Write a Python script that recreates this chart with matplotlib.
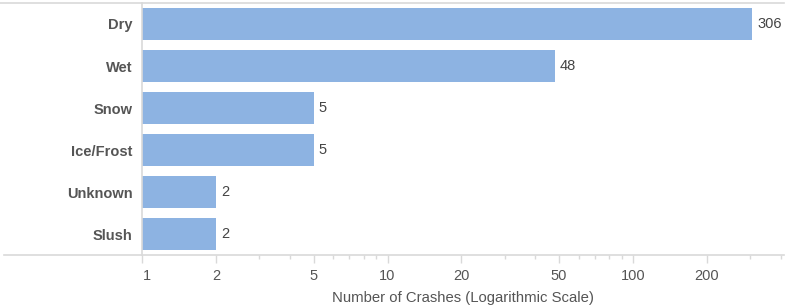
import matplotlib.pyplot as plt
import matplotlib.transforms as mtransforms
from matplotlib.ticker import LogLocator, FixedLocator, NullFormatter
from matplotlib.lines import Line2D

plt.rcParams['font.family'] = ['Liberation Sans', 'DejaVu Sans']

conditions = ['Dry', 'Wet', 'Snow', 'Ice/Frost', 'Unknown', 'Slush']
crashes = [306, 48, 5, 5, 2, 2]
major_ticks = [1, 2, 5, 10, 20, 50, 100, 200]

W, H = 785, 308
fig = plt.figure(figsize=(W / 100, H / 100), dpi=100)
ax = fig.add_axes([142 / W, 1 - 255 / H, (784 - 142) / W, (255 - 3) / H])

bar_color = '#8db3e2'
grid_color = '#d9d9d9'
text_color = '#555555'

ypos = list(range(len(conditions)))
ax.barh(ypos, crashes, height=0.76, color=bar_color, left=0.0001)
ax.set_xscale('log')
ax.set_xlim(1, 412)
ax.set_ylim(len(conditions) - 0.5, -0.5)

for y, v in zip(ypos, crashes):
    ax.annotate(str(v), xy=(v, y), xytext=(3.5, 0), textcoords='offset points',
                va='center', ha='left', fontsize=10.5, color='#444444')

ax.set_yticks(ypos)
ax.set_yticklabels(conditions, fontsize=10.5, fontweight='bold', color=text_color)
ax.tick_params(axis='y', length=0, pad=7)

ax.xaxis.set_major_locator(FixedLocator(major_ticks))
ax.set_xticklabels([str(t) for t in major_ticks])
ax.xaxis.set_minor_locator(LogLocator(base=10, subs=[3, 4, 6, 7, 8, 9]))
ax.xaxis.set_minor_formatter(NullFormatter())
ax.tick_params(axis='x', which='major', length=6, width=1, color=grid_color,
               labelsize=10.5, labelcolor=text_color, pad=4)
ax.tick_params(axis='x', which='minor', length=3, width=1, color=grid_color)

# the "1" label sits a little right of its tick
first = ax.get_xticklabels()[0]
first.set_transform(first.get_transform() +
                    mtransforms.ScaledTranslation(5 / 100, 0, fig.dpi_scale_trans))

ax.set_xlabel('Number of Crashes (Logarithmic Scale)', fontsize=10.75,
              color=text_color, labelpad=6)

for s in ['top', 'right', 'bottom']:
    ax.spines[s].set_visible(False)
ax.spines['left'].set_color(grid_color)
ax.spines['left'].set_linewidth(1.2)

# full-width rules at top and along the axis
fig.add_artist(Line2D([0, 784 / W], [1 - 3 / H, 1 - 3 / H], color=grid_color, lw=1.2))
fig.add_artist(Line2D([4 / W, 784 / W], [1 - 255 / H, 1 - 255 / H], color=grid_color, lw=1.2))

fig.savefig('out.png', dpi=100)
